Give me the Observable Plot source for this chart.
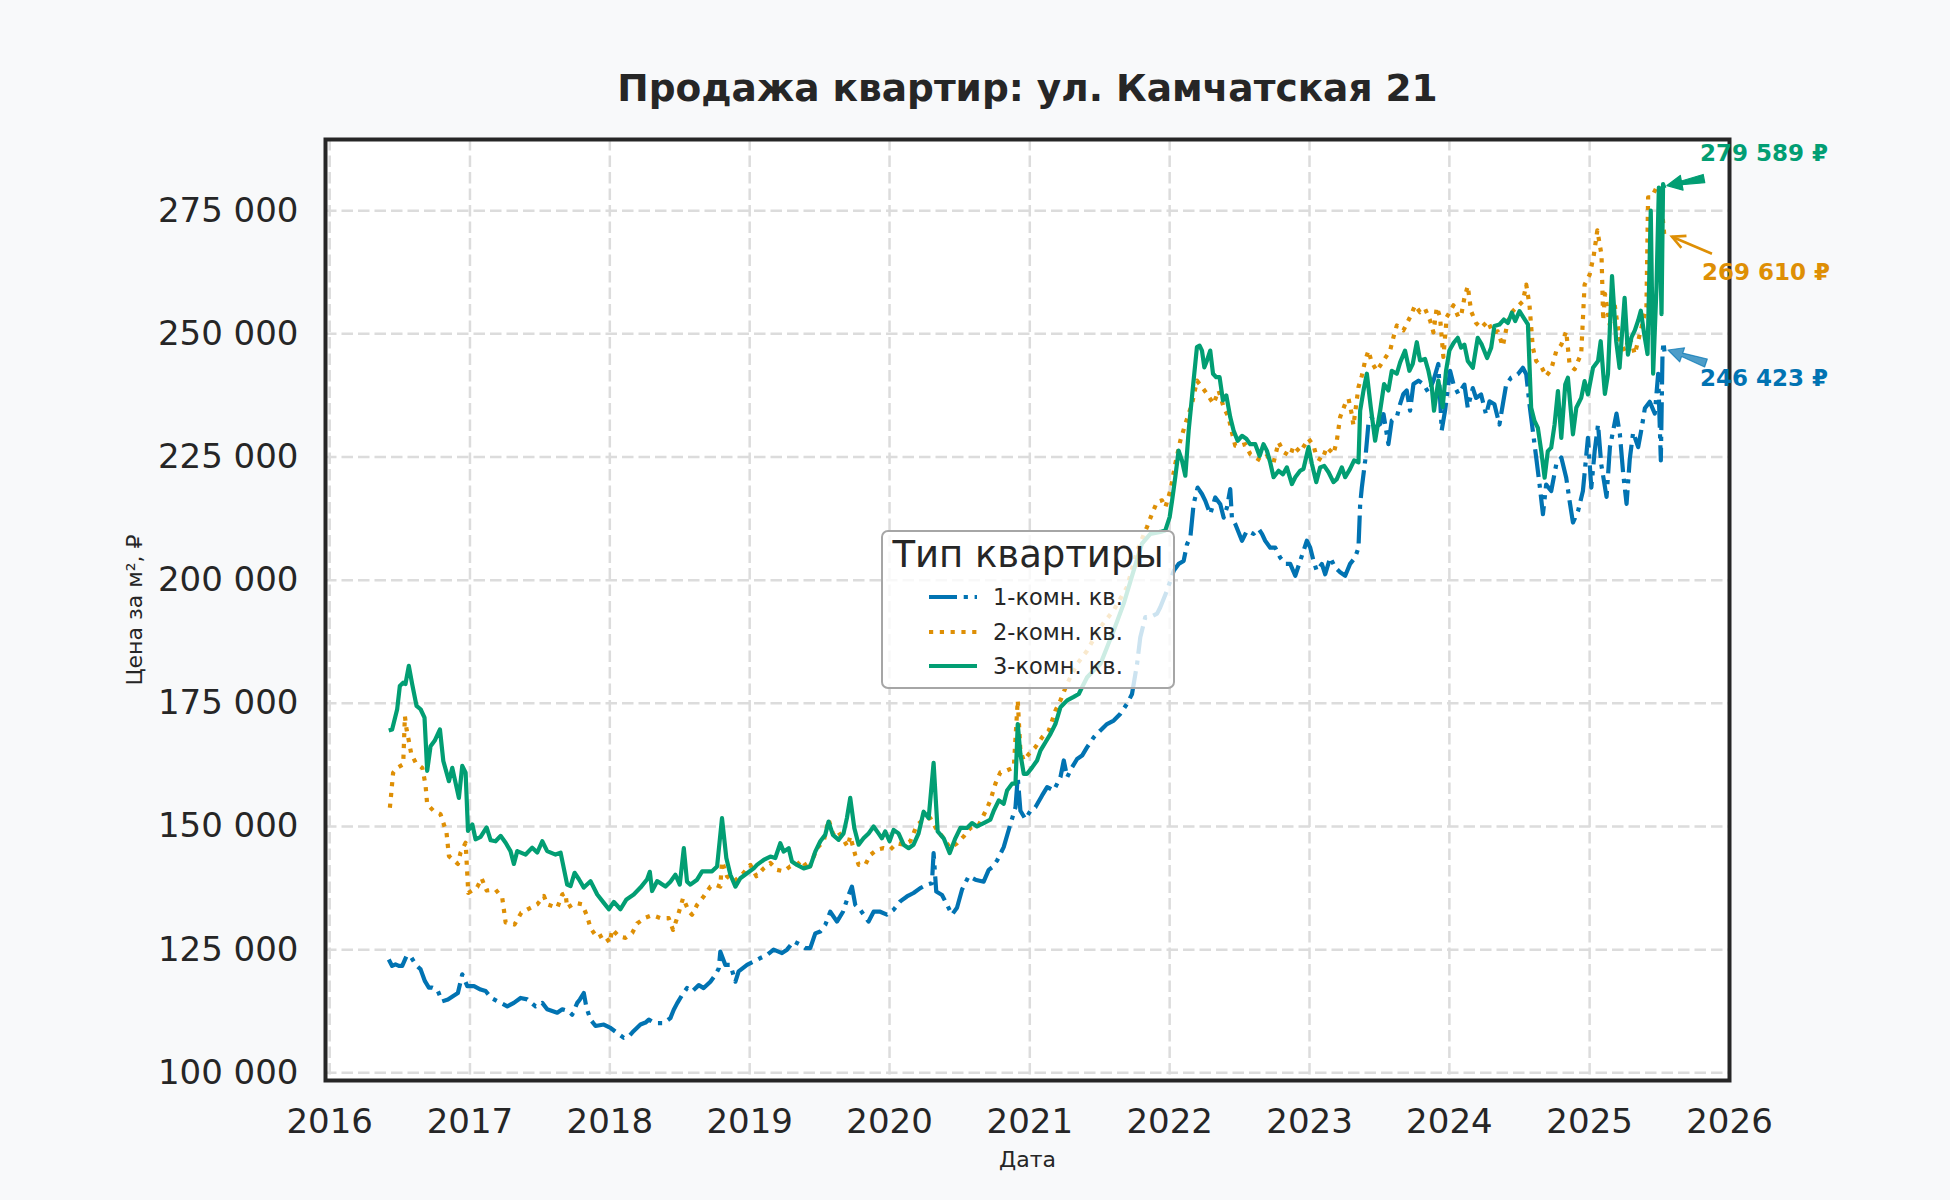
<!DOCTYPE html>
<html>
<head>
<meta charset="utf-8">
<script src="https://cdn.jsdelivr.net/npm/d3@7"></script>
<script src="https://cdn.jsdelivr.net/npm/@observablehq/plot@0.6"></script>
<style>
  html, body { margin: 0; padding: 0; background: #f8f9fa; }
  #wrap { position: relative; width: 1950px; height: 1200px; background: #f8f9fa; font-family: "DejaVu Sans", sans-serif; }
  #legend { position: absolute; left: 881px; top: 530px; width: 290px; height: 155px;
    border: 2.5px solid #a6a6a6; border-radius: 7px; background: rgba(255,255,255,0.8); color: #262626; }
  #legend .title { position: absolute; left: 0; right: 0; top: 2px; text-align: center; font-size: 37px; line-height: 42px; }
  #legend .row { position: absolute; left: 44px; height: 30px; display: flex; align-items: center; font-size: 22.5px; }
  #legend .row svg { width: 52px; height: 10px; margin-right: 14px; }
</style>
</head>
<body>
<div id="wrap"><div id="legend"></div></div>
<script>
// ---- data (decimal year, price per m², ₽) ----
const oneRoom = [[2016.421,123000],[2016.445,121700],[2016.469,122000],[2016.493,121700],[2016.517,121700],[2016.548,123700],[2016.576,123700],[2016.612,122000],[2016.648,121000],[2016.679,118600],[2016.707,117300],[2016.731,117300],[2016.767,116900],[2016.802,114500],[2016.843,114900],[2016.881,115600],[2016.914,116200],[2016.945,120000],[2016.981,117600],[2017.029,117600],[2017.076,116900],[2017.112,116600],[2017.152,115200],[2017.219,114200],[2017.267,113500],[2017.314,114200],[2017.362,115200],[2017.410,114900],[2017.469,113500],[2017.517,114200],[2017.552,112900],[2017.624,112200],[2017.660,112900],[2017.707,112500],[2017.731,111800],[2017.767,114200],[2017.786,114900],[2017.814,116200],[2017.833,113200],[2017.862,110800],[2017.898,109500],[2017.957,109800],[2018.005,109100],[2018.052,108100],[2018.100,107100],[2018.136,107400],[2018.171,108500],[2018.219,109800],[2018.255,110200],[2018.279,110800],[2018.314,110200],[2018.338,110100],[2018.386,110100],[2018.433,111100],[2018.457,112800],[2018.481,114100],[2018.517,115800],[2018.552,117200],[2018.588,116500],[2018.636,117800],[2018.671,117200],[2018.719,118500],[2018.755,119900],[2018.779,121200],[2018.790,124600],[2018.826,121900],[2018.862,121900],[2018.898,118500],[2018.921,120600],[2018.981,121900],[2019.029,122600],[2019.076,123300],[2019.124,123900],[2019.171,125000],[2019.231,124300],[2019.267,125000],[2019.314,126700],[2019.362,126000],[2019.398,125300],[2019.433,125300],[2019.469,128300],[2019.505,128700],[2019.540,130000],[2019.576,132700],[2019.624,130700],[2019.667,132700],[2019.707,136100],[2019.731,137800],[2019.755,134100],[2019.790,133100],[2019.850,130700],[2019.886,132700],[2019.933,132700],[2019.981,132100],[2020.029,133100],[2020.076,134800],[2020.124,135800],[2020.171,136500],[2020.219,137500],[2020.267,138200],[2020.302,138500],[2020.314,144600],[2020.333,136800],[2020.374,136100],[2020.410,134100],[2020.445,132100],[2020.481,133500],[2020.517,137200],[2020.564,139900],[2020.612,139200],[2020.671,138800],[2020.707,141200],[2020.731,141700],[2020.767,143100],[2020.814,145800],[2020.862,150500],[2020.898,153900],[2020.914,160000],[2020.933,153200],[2020.969,151500],[2021.005,153200],[2021.040,153900],[2021.088,156300],[2021.124,158000],[2021.171,157300],[2021.219,160000],[2021.243,163400],[2021.267,160000],[2021.302,162000],[2021.338,163700],[2021.374,164400],[2021.410,166100],[2021.457,168100],[2021.505,169500],[2021.552,170800],[2021.600,171500],[2021.648,172900],[2021.695,174900],[2021.731,176900],[2021.767,183000],[2021.790,188400],[2021.826,192500],[2021.862,192500],[2021.910,193200],[2021.933,194500],[2021.981,197900],[2022.029,201900],[2022.064,203300],[2022.100,203900],[2022.124,207300],[2022.148,208700],[2022.171,215400],[2022.200,218800],[2022.231,217500],[2022.255,216100],[2022.290,213400],[2022.326,216800],[2022.362,215400],[2022.386,212700],[2022.410,214800],[2022.433,218500],[2022.445,212700],[2022.469,211400],[2022.517,208000],[2022.552,210000],[2022.600,209400],[2022.636,210400],[2022.660,209400],[2022.683,208000],[2022.719,206600],[2022.755,206600],[2022.790,204600],[2022.826,203300],[2022.862,203300],[2022.898,200900],[2022.933,203900],[2022.981,208000],[2023.005,206600],[2023.029,203900],[2023.052,201900],[2023.088,203300],[2023.112,201200],[2023.148,204600],[2023.183,202600],[2023.219,201600],[2023.255,200900],[2023.290,203300],[2023.326,204600],[2023.350,206600],[2023.362,215400],[2023.374,218800],[2023.398,224300],[2023.421,231700],[2023.445,233100],[2023.469,231000],[2023.505,231700],[2023.529,233700],[2023.564,227600],[2023.588,232400],[2023.624,233100],[2023.648,235800],[2023.671,237800],[2023.695,238500],[2023.719,234400],[2023.743,239800],[2023.779,240500],[2023.814,239800],[2023.850,238100],[2023.886,240500],[2023.921,243900],[2023.945,230400],[2023.969,234400],[2024.005,242500],[2024.029,239800],[2024.064,237800],[2024.107,239700],[2024.131,235000],[2024.167,239000],[2024.190,237000],[2024.226,237700],[2024.262,233600],[2024.286,236300],[2024.321,235700],[2024.357,231600],[2024.381,235700],[2024.405,239700],[2024.440,241100],[2024.488,241800],[2024.524,243100],[2024.548,241800],[2024.571,235700],[2024.595,230300],[2024.619,224900],[2024.643,219400],[2024.667,213400],[2024.690,219400],[2024.726,218100],[2024.762,223500],[2024.798,224900],[2024.833,220800],[2024.857,216100],[2024.881,211700],[2024.917,214000],[2024.952,218100],[2024.988,228900],[2025.012,218800],[2025.036,226200],[2025.060,231600],[2025.083,223500],[2025.121,216900],[2025.145,227000],[2025.192,233800],[2025.216,229700],[2025.240,221600],[2025.264,215500],[2025.287,224600],[2025.311,230000],[2025.347,227000],[2025.371,230700],[2025.395,234900],[2025.430,236200],[2025.466,233800],[2025.490,241900],[2025.509,224300],[2025.521,245900],[2025.528,248300],[2025.535,246423]];

const twoRoom = [[2016.429,153800],[2016.438,156500],[2016.452,160900],[2016.481,161900],[2016.524,162600],[2016.536,172400],[2016.548,169700],[2016.564,167400],[2016.581,164800],[2016.612,163000],[2016.660,161900],[2016.683,158500],[2016.695,154500],[2016.743,153100],[2016.790,152500],[2016.814,150400],[2016.833,148700],[2016.850,144000],[2016.914,142400],[2016.933,144700],[2016.969,146700],[2016.981,140300],[2016.988,136500],[2017.052,137700],[2017.083,139500],[2017.119,137000],[2017.183,137200],[2017.231,135500],[2017.255,130500],[2017.319,130100],[2017.367,132500],[2017.433,133500],[2017.481,134200],[2017.529,135900],[2017.552,134200],[2017.624,133500],[2017.660,136200],[2017.683,136500],[2017.695,133500],[2017.755,134500],[2017.802,134200],[2017.838,131800],[2017.862,129400],[2017.910,127400],[2017.957,128100],[2018.000,126400],[2018.017,129100],[2018.064,127700],[2018.112,127400],[2018.160,128400],[2018.195,130300],[2018.255,131500],[2018.302,132000],[2018.362,131400],[2018.421,131400],[2018.452,129000],[2018.481,131400],[2018.524,135500],[2018.564,132800],[2018.588,132100],[2018.624,134100],[2018.671,135800],[2018.719,137800],[2018.755,138200],[2018.790,137800],[2018.802,142900],[2018.838,139900],[2018.886,138800],[2018.945,140200],[2019.005,142200],[2019.048,139900],[2019.100,141500],[2019.148,142600],[2019.195,141200],[2019.243,140900],[2019.290,141900],[2019.338,142200],[2019.374,143200],[2019.421,141200],[2019.481,145600],[2019.529,147000],[2019.564,151400],[2019.595,148600],[2019.624,149300],[2019.671,147300],[2019.700,145900],[2019.719,148000],[2019.755,144200],[2019.779,142200],[2019.826,142200],[2019.862,144200],[2019.910,145300],[2019.957,145600],[2020.005,145300],[2020.052,146600],[2020.100,146300],[2020.148,147000],[2020.195,150300],[2020.243,151400],[2020.290,151700],[2020.338,149300],[2020.386,147600],[2020.433,145600],[2020.481,146600],[2020.529,148000],[2020.576,149700],[2020.636,150300],[2020.695,153700],[2020.719,155300],[2020.755,158700],[2020.790,161000],[2020.838,161400],[2020.886,162000],[2020.914,175600],[2020.933,165400],[2020.957,163400],[2020.993,164700],[2021.040,166100],[2021.088,168100],[2021.136,169500],[2021.183,173500],[2021.219,175600],[2021.267,179000],[2021.338,183000],[2021.410,185700],[2021.505,190500],[2021.600,193900],[2021.695,198600],[2021.767,206000],[2021.838,210800],[2021.874,213500],[2021.910,215900],[2021.945,216200],[2021.969,214800],[2022.005,218200],[2022.040,223600],[2022.076,228300],[2022.112,231700],[2022.160,235800],[2022.195,240500],[2022.231,239200],[2022.267,237800],[2022.290,236800],[2022.314,235800],[2022.350,238500],[2022.386,235100],[2022.421,233100],[2022.445,230000],[2022.469,227300],[2022.505,227300],[2022.540,227600],[2022.576,225600],[2022.612,224900],[2022.648,224300],[2022.695,225200],[2022.743,223900],[2022.779,228000],[2022.814,226000],[2022.862,225200],[2022.886,227300],[2022.933,226000],[2022.993,228700],[2023.029,227300],[2023.052,224900],[2023.088,224300],[2023.124,227000],[2023.171,225600],[2023.195,228300],[2023.219,233100],[2023.255,235800],[2023.279,236800],[2023.302,233700],[2023.314,231400],[2023.350,239200],[2023.374,241500],[2023.398,244600],[2023.421,246600],[2023.445,244200],[2023.481,242500],[2023.529,244600],[2023.576,246600],[2023.600,249300],[2023.624,251700],[2023.671,250700],[2023.719,253400],[2023.755,255800],[2023.790,254400],[2023.826,255100],[2023.862,252700],[2023.886,250300],[2023.910,255400],[2023.933,253400],[2023.957,245300],[2023.981,253400],[2024.029,255800],[2024.064,253400],[2024.083,253600],[2024.107,257300],[2024.131,259700],[2024.155,254600],[2024.190,252200],[2024.226,251200],[2024.274,252600],[2024.310,250200],[2024.345,250500],[2024.381,247500],[2024.417,252600],[2024.452,254600],[2024.488,255600],[2024.524,256600],[2024.548,260000],[2024.571,255900],[2024.595,247200],[2024.619,244500],[2024.655,243400],[2024.690,241400],[2024.726,242800],[2024.762,246500],[2024.798,247800],[2024.833,250500],[2024.857,243800],[2024.893,242800],[2024.940,246000],[2024.964,260000],[2025.000,262000],[2025.030,266000],[2025.055,271000],[2025.085,266000],[2025.097,252700],[2025.110,258100],[2025.143,251900],[2025.179,255900],[2025.214,248900],[2025.250,246500],[2025.286,249500],[2025.323,245900],[2025.347,248600],[2025.383,252700],[2025.406,255400],[2025.418,277700],[2025.442,277700],[2025.478,279700],[2025.502,280100],[2025.535,269610]];

const threeRoom = [[2016.421,169500],[2016.445,169700],[2016.481,173800],[2016.500,178500],[2016.524,179200],[2016.540,178900],[2016.564,182600],[2016.588,178900],[2016.619,174500],[2016.648,173800],[2016.676,172100],[2016.695,161300],[2016.719,166300],[2016.748,167400],[2016.786,169700],[2016.810,163300],[2016.850,159200],[2016.874,161900],[2016.921,155800],[2016.945,162300],[2016.969,160900],[2016.986,149100],[2017.017,150400],[2017.040,147400],[2017.076,147900],[2017.119,149800],[2017.148,147200],[2017.183,147000],[2017.219,148100],[2017.255,146700],[2017.290,145000],[2017.314,142400],[2017.338,145000],[2017.398,144300],[2017.445,145700],[2017.481,144700],[2017.517,147000],[2017.552,145000],[2017.612,144300],[2017.648,144700],[2017.695,138200],[2017.719,137900],[2017.748,140600],[2017.779,139300],[2017.814,137600],[2017.862,138900],[2017.910,136200],[2017.957,134500],[2017.993,133200],[2018.029,134700],[2018.076,133200],[2018.119,135200],[2018.171,136200],[2018.219,137600],[2018.267,139300],[2018.286,140800],[2018.302,136900],[2018.338,138900],[2018.362,138500],[2018.398,137800],[2018.433,138800],[2018.469,140200],[2018.500,138200],[2018.529,145600],[2018.552,138800],[2018.576,138200],[2018.624,139200],[2018.660,140900],[2018.695,140900],[2018.731,140900],[2018.767,141900],[2018.802,151700],[2018.833,143600],[2018.862,140200],[2018.898,137800],[2018.933,139500],[2018.981,140500],[2019.029,141500],[2019.052,142200],[2019.100,143200],[2019.148,143900],[2019.183,143600],[2019.219,146600],[2019.243,144900],[2019.279,145600],[2019.302,142900],[2019.338,142200],[2019.386,141500],[2019.433,141900],[2019.469,144900],[2019.505,147000],[2019.540,148300],[2019.564,151000],[2019.595,148300],[2019.636,147300],[2019.671,148600],[2019.695,151700],[2019.719,155800],[2019.748,149700],[2019.779,146300],[2019.814,147600],[2019.850,148600],[2019.886,150000],[2019.921,148600],[2019.945,147600],[2019.969,149000],[2020.000,147000],[2020.029,149300],[2020.064,148600],[2020.100,146300],[2020.136,145600],[2020.171,146300],[2020.207,148600],[2020.243,153000],[2020.279,151700],[2020.314,162900],[2020.343,149000],[2020.386,147600],[2020.429,144600],[2020.469,147600],[2020.505,149700],[2020.552,149700],[2020.588,150700],[2020.624,150000],[2020.671,150700],[2020.719,151400],[2020.743,153200],[2020.779,155300],[2020.814,154600],[2020.838,157300],[2020.874,158700],[2020.898,158700],[2020.914,170800],[2020.933,164700],[2020.957,160700],[2020.981,160700],[2021.017,162000],[2021.052,163400],[2021.076,165400],[2021.112,167100],[2021.148,168800],[2021.183,170800],[2021.219,174200],[2021.267,175600],[2021.314,176300],[2021.350,176900],[2021.374,178300],[2021.410,180300],[2021.457,181700],[2021.505,183000],[2021.600,189800],[2021.671,195200],[2021.743,202000],[2021.802,207400],[2021.862,209400],[2021.933,209800],[2021.969,210100],[2022.000,212800],[2022.017,216100],[2022.040,220900],[2022.064,226300],[2022.088,224300],[2022.112,221200],[2022.136,230400],[2022.171,240500],[2022.195,247300],[2022.214,247600],[2022.231,246600],[2022.248,243200],[2022.267,244600],[2022.290,246600],[2022.310,241900],[2022.333,241200],[2022.357,241200],[2022.381,236500],[2022.405,237500],[2022.433,233100],[2022.457,230400],[2022.486,228300],[2022.517,229300],[2022.548,228700],[2022.576,227600],[2022.612,227600],[2022.643,225200],[2022.671,227600],[2022.695,226300],[2022.719,223900],[2022.743,220900],[2022.779,222200],[2022.810,221500],[2022.838,222900],[2022.874,219500],[2022.898,220900],[2022.933,222200],[2022.957,222600],[2022.993,227000],[2023.017,223600],[2023.048,219900],[2023.076,222900],[2023.105,223200],[2023.136,221900],[2023.171,219900],[2023.195,220500],[2023.231,222900],[2023.255,220900],[2023.290,222600],[2023.319,224300],[2023.350,223900],[2023.362,234400],[2023.386,238500],[2023.410,241900],[2023.438,235100],[2023.469,228300],[2023.505,234400],[2023.533,239800],[2023.564,238500],[2023.588,242500],[2023.624,241900],[2023.648,244200],[2023.683,246600],[2023.714,242500],[2023.738,243900],[2023.767,248300],[2023.790,244600],[2023.826,244900],[2023.850,242500],[2023.874,239200],[2023.890,234400],[2023.921,240500],[2023.952,235100],[2023.976,242500],[2024.000,246600],[2024.031,248200],[2024.060,249200],[2024.083,247200],[2024.107,247800],[2024.131,244500],[2024.167,243100],[2024.202,249200],[2024.231,247800],[2024.269,245100],[2024.298,247200],[2024.321,251600],[2024.357,251900],[2024.388,252900],[2024.417,252200],[2024.445,254300],[2024.469,252600],[2024.500,254600],[2024.531,253200],[2024.560,251900],[2024.583,235000],[2024.607,232300],[2024.631,230900],[2024.655,226200],[2024.679,220800],[2024.702,226200],[2024.726,226900],[2024.750,231600],[2024.774,238400],[2024.798,228900],[2024.826,239700],[2024.845,241100],[2024.881,229600],[2024.905,235000],[2024.940,237000],[2024.964,240400],[2024.988,237700],[2025.024,243100],[2025.060,244500],[2025.079,248500],[2025.109,237800],[2025.131,241800],[2025.160,261700],[2025.190,248500],[2025.214,243100],[2025.250,257300],[2025.274,245800],[2025.299,249300],[2025.323,250700],[2025.347,252700],[2025.366,254700],[2025.390,250000],[2025.414,245900],[2025.437,275000],[2025.454,241900],[2025.478,259500],[2025.495,279700],[2025.514,254000],[2025.525,280400],[2025.535,279589]];

const seriesNames = ["1-комн. кв.", "2-комн. кв.", "3-комн. кв."];
const seriesColors = ["#0173b2", "#de8f05", "#029e73"];
const seriesDash = ["28,6.7,4.2,6.7", "4.2,6.6", null];
const yTicks = [100000, 125000, 150000, 175000, 200000, 225000, 250000, 275000];
const xTickYears = [2016, 2017, 2018, 2019, 2020, 2021, 2022, 2023, 2024, 2025, 2026];
const titleText = "Продажа квартир: ул. Камчатская 21";
const xLabel = "Дата";
const yLabel = "Цена за м², ₽";
const legendTitle = "Тип квартиры";

// ---- helpers ----
function yearToDate(y) {
  const yr = Math.floor(y);
  const a = Date.UTC(yr, 0, 1), b = Date.UTC(yr + 1, 0, 1);
  return new Date(a + (y - yr) * (b - a));
}
const fmtNum = d => d3.format(",")(d).replace(/,/g, " ");
const fmtRub = d => fmtNum(d) + " ₽";

const allSeries = [oneRoom, twoRoom, threeRoom].map((arr, i) =>
  arr.map(([t, v]) => ({date: yearToDate(t), value: v, type: seriesNames[i]})));
const xTicks = xTickYears.map(y => new Date(Date.UTC(y, 0, 1)));

// annotation layout: offsets (px) relative to last point
const annLayout = [
  {text: [36, 27], tail: [42, 12], tip: [4, -1], style: "fancy", opacity: 0.7},
  {text: [38, 35], tail: [48, 17], tip: [8, 0], style: "simple", opacity: 1},
  {text: [36, -35], tail: [40, -9], tip: [3, -2], style: "fancy", opacity: 1}
];

function annotationMark(index, scales) {
  const g = d3.create("svg:g");
  allSeries.forEach((s, i) => {
    const last = s[s.length - 1];
    const px = scales.x(last.date), py = scales.y(last.value);
    const L = annLayout[i], c = seriesColors[i];
    const S = [px + L.tail[0], py + L.tail[1]], T = [px + L.tip[0], py + L.tip[1]];
    const dx = T[0] - S[0], dy = T[1] - S[1], len = Math.hypot(dx, dy);
    const u = [dx / len, dy / len], n = [-u[1], u[0]];
    if (L.style === "fancy") {
      const hl = 15, hw = 7.5, w0 = 4.2, w1 = 1.8;
      const B = [T[0] - hl * u[0], T[1] - hl * u[1]];
      const pts = [
        [S[0] + w0 * n[0], S[1] + w0 * n[1]],
        [B[0] + w1 * n[0], B[1] + w1 * n[1]],
        [B[0] + hw * n[0], B[1] + hw * n[1]],
        T,
        [B[0] - hw * n[0], B[1] - hw * n[1]],
        [B[0] - w1 * n[0], B[1] - w1 * n[1]],
        [S[0] - w0 * n[0], S[1] - w0 * n[1]]
      ];
      g.append("path").attr("d", "M" + pts.map(p => p.join(",")).join("L") + "Z")
        .attr("fill", c).attr("fill-opacity", L.opacity)
        .attr("stroke", c).attr("stroke-width", 1.2).attr("stroke-opacity", L.opacity)
        .attr("stroke-linejoin", "round");
    } else {
      const hl = 13, hw = 6.5;
      g.append("line").attr("x1", S[0]).attr("y1", S[1]).attr("x2", T[0]).attr("y2", T[1])
        .attr("stroke", c).attr("stroke-width", 2.6);
      g.append("path").attr("d",
        `M${T[0] - hl * u[0] + hw * n[0]},${T[1] - hl * u[1] + hw * n[1]}L${T[0]},${T[1]}L${T[0] - hl * u[0] - hw * n[0]},${T[1] - hl * u[1] - hw * n[1]}`)
        .attr("fill", "none").attr("stroke", c).attr("stroke-width", 2.6);
    }
    g.append("text").attr("x", px + L.text[0]).attr("y", py + L.text[1])
      .attr("dy", "0.35em").attr("fill", c).attr("font-weight", "bold")
      .attr("text-anchor", "start")
      .attr("font-size", 23).attr("font-family", "DejaVu Sans, sans-serif")
      .text(fmtRub(last.value));
  });
  return g.node();
}

const chart = Plot.plot({
  width: 1950,
  height: 1200,
  marginLeft: 325,
  marginRight: 221,
  marginTop: 139,
  marginBottom: 120,
  style: {background: "transparent", fontFamily: "DejaVu Sans, sans-serif", color: "#262626", overflow: "visible"},
  x: {type: "utc", domain: [new Date(Date.UTC(2015, 11, 21)), new Date(Date.UTC(2026, 0, 1))]},
  y: {domain: [98440, 289450]},
  marks: [
    Plot.frame({fill: "white", stroke: null}),
    Plot.gridX(xTicks, {stroke: "#dcdcdc", strokeOpacity: 1, strokeWidth: 2.5, strokeDasharray: "11.5,5"}),
    Plot.gridY(yTicks, {stroke: "#dcdcdc", strokeOpacity: 1, strokeWidth: 2.5, strokeDasharray: "11.5,5"}),
    ...allSeries.map((s, i) => Plot.line(s, {
      x: "date", y: "value", stroke: seriesColors[i], strokeWidth: 4.2,
      strokeDasharray: seriesDash[i], strokeLinejoin: "round", strokeLinecap: "butt"
    })),
    Plot.frame({stroke: "#262626", strokeWidth: 4}),
    Plot.axisX(xTicks, {tickFormat: d3.utcFormat("%Y"), tickSize: 0, tickPadding: 28, fontSize: 34, label: null}),
    Plot.axisY(yTicks, {tickFormat: fmtNum, tickSize: 0, tickPadding: 27, fontSize: 34, label: null}),
    Plot.text([titleText], {frameAnchor: "top", dy: -51, lineAnchor: "middle", textAnchor: "middle", fontSize: 37.5, fontWeight: "bold", fill: "#262626"}),
    Plot.text([xLabel], {frameAnchor: "bottom", dy: 79, lineAnchor: "middle", textAnchor: "middle", fontSize: 22, fill: "#262626"}),
    Plot.text([yLabel], {frameAnchor: "left", dx: -191, rotate: -90, lineAnchor: "middle", textAnchor: "middle", fontSize: 22, fill: "#262626"}),
    annotationMark
  ]
});

const wrap = document.getElementById("wrap");
wrap.insertBefore(chart, wrap.firstChild);

// legend
const legend = d3.select("#legend");
legend.append("div").attr("class", "title").text(legendTitle);
seriesNames.forEach((name, i) => {
  const row = legend.append("div").attr("class", "row").style("top", (50 + i * 34.5) + "px");
  const svg = row.append("svg").attr("viewBox", "0 0 52 10");
  svg.append("line").attr("x1", 2).attr("x2", 50).attr("y1", 5).attr("y2", 5)
    .attr("stroke", seriesColors[i]).attr("stroke-width", 4.2)
    .attr("stroke-dasharray", seriesDash[i]);
  row.append("span").text(name);
});
</script>
</body>
</html>
